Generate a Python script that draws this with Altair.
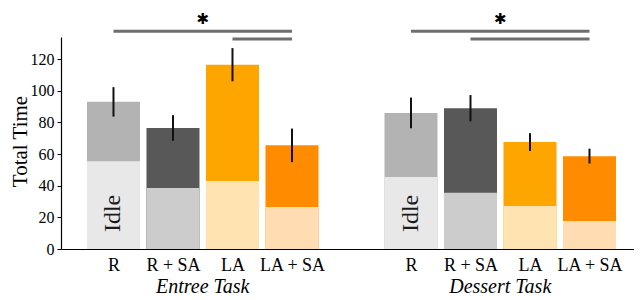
import altair as alt
import pandas as pd

conditions = ["R", "R + SA", "LA", "LA + SA"]
tasks = ["Entree Task", "Dessert Task"]

total_entree = [93.0, 76.5, 116.5, 65.5]
idle_entree = [55.5, 38.5, 43.0, 26.5]
err_entree = [9.3, 8.1, 10.5, 10.6]

total_dessert = [86.0, 89.0, 67.6, 58.7]
idle_dessert = [45.5, 35.5, 27.2, 17.7]
err_dessert = [9.7, 8.3, 5.6, 4.7]

top_colors = ["#b3b3b3", "#585858", "#ffa500", "#ff8c00"]
idle_colors = ["#e8e8e8", "#cccccc", "#ffe4b2", "#ffdcb2"]

# significance brackets: (task, from condition, to condition, height)
sig_task = ["Entree Task", "Entree Task", "Dessert Task", "Dessert Task"]
sig_from = ["R", "LA", "R", "R + SA"]
sig_to = ["LA + SA", "LA + SA", "LA + SA", "LA + SA"]
sig_height = [137.7, 132.8, 137.7, 132.8]
star_height = 145.5

y_ticks = [0, 20, 40, 60, 80, 100, 120]

FONT = "Liberation Serif"

totals = [total_entree, total_dessert]
idles = [idle_entree, idle_dessert]
errs = [err_entree, err_dessert]

rows = []
for t, task in enumerate(tasks):
    for c, cond in enumerate(conditions):
        slot = t * (len(conditions) + 1) + c
        rows.append({
            "task": task, "cond": cond, "slot": slot,
            "total": totals[t][c], "idle": idles[t][c],
            "lo": totals[t][c] - errs[t][c], "hi": totals[t][c] + errs[t][c],
        })
df = pd.DataFrame(rows)

slot_of = {(r["task"], r["cond"]): r["slot"] for r in rows}
sig_df = pd.DataFrame({
    "x1": [slot_of[(t, a)] for t, a in zip(sig_task, sig_from)],
    "x2": [slot_of[(t, b)] for t, b in zip(sig_task, sig_to)],
    "y": sig_height,
})
star_df = sig_df[sig_df["y"] == max(sig_height)].copy()
star_df["xm"] = (star_df["x1"] + star_df["x2"]) / 2
star_df["y"] = star_height
star_df["t"] = "\u2731"

group_df = pd.DataFrame({
    "task": tasks,
    "xm": [df[df.task == t]["slot"].mean() for t in tasks],
})
idle_df = df[df.cond == "R"].copy()
idle_df["t"] = "Idle"
idle_df["ty"] = 22.5

tick_vals = [int(v) for v in df["slot"]]
label_map = {int(r["slot"]): r["cond"] for r in rows}
label_expr = "{" + ",".join(f'"{k}":"{v}"' for k, v in label_map.items()) + "}[datum.value]"

xscale = alt.Scale(domain=[-0.882, 8.748], nice=False, zero=False, padding=0)
yscale = alt.Scale(domain=[0, 134], nice=False, zero=True, padding=0)

xax = alt.Axis(values=tick_vals, labelExpr=label_expr, title=None, grid=False,
               ticks=False, domainColor="black", domainWidth=1.2,
               labelFont=FONT, labelFontSize=18, labelColor="black",
               labelPadding=7, labelFlush=False, labelOverlap=False)
yax = alt.Axis(values=y_ticks, title="Total Time", grid=False,
               domainColor="black", domainWidth=1.2, tickColor="black", tickSize=4,
               labelFont=FONT, labelFontSize=16, labelColor="black", labelPadding=3,
               labelOverlap=False,
               titleFont=FONT, titleFontSize=21, titleFontWeight="normal",
               titleColor="black", titleAngle=270, titleX=-40.5, titleY=104,
               titleAlign="center", titleBaseline="middle")

X = lambda f: alt.X(f, scale=xscale, axis=xax)
Y = lambda f: alt.Y(f, scale=yscale, axis=yax)

top_bars = alt.Chart(df).mark_bar(size=53).encode(
    x=X("slot:Q"),
    y=Y("total:Q"),
    color=alt.Color("cond:N", scale=alt.Scale(domain=conditions, range=top_colors), legend=None),
)
idle_bars = alt.Chart(df).mark_bar(size=53).encode(
    x=X("slot:Q"),
    y=Y("idle:Q"),
    color=alt.Color("cond:N", scale=alt.Scale(domain=conditions, range=idle_colors), legend=None),
)
errbars = alt.Chart(df).mark_rule(color="#111111", strokeWidth=2).encode(
    x=X("slot:Q"),
    y=Y("lo:Q"),
    y2="hi:Q",
)
idle_text = alt.Chart(idle_df).mark_text(angle=270, font=FONT, fontSize=24, color="#1a1a1a",
                                         baseline="middle", align="center").encode(
    x=X("slot:Q"),
    y=Y("ty:Q"),
    text="t:N",
)
sig_lines = alt.Chart(sig_df).mark_rule(color="#6e6e6e", strokeWidth=3, clip=False).encode(
    x=X("x1:Q"),
    x2="x2:Q",
    y=Y("y:Q"),
)
stars = alt.Chart(star_df).mark_text(font="DejaVu Sans", fontSize=15, color="black",
                                     baseline="middle", align="center", clip=False).encode(
    x=X("xm:Q"),
    y=Y("y:Q"),
    text="t:N",
)
group_text = alt.Chart(group_df).mark_text(font=FONT, fontSize=20, fontStyle="italic",
                                           color="black", baseline="middle", align="center").encode(
    x=X("xm:Q"),
    y=alt.value(250),
    text="task:N",
)

chart = alt.layer(top_bars, idle_bars, errbars, idle_text, sig_lines, stars, group_text).resolve_scale(
    color="independent"
).properties(
    width=573, height=212,
    autosize=alt.AutoSizeParams(type="none"),
    padding={"left": 53, "top": 29, "right": 0, "bottom": 51},
).configure_view(strokeWidth=0)

chart.save("out.html", embed_options={"renderer": "svg", "actions": False})
